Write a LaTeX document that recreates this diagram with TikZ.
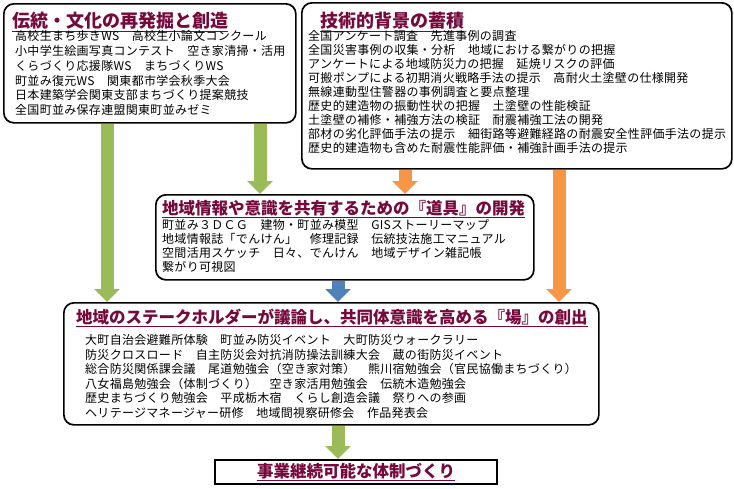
\documentclass[tikz,border=0pt]{standalone}
\usepackage{fontspec}
\setmainfont{Noto Sans CJK JP}
\newfontfamily\bodyfont{Noto Sans CJK JP}[LetterSpace=2.5]
\usetikzlibrary{arrows.meta,backgrounds}
\definecolor{ttl}{RGB}{118,8,60}
\definecolor{garr}{RGB}{155,187,89}
\definecolor{oarr}{RGB}{247,150,70}
\definecolor{barr}{RGB}{79,129,189}
\tikzset{
  rbox/.style={draw=black, line width=1.7pt, rounded corners=10pt, fill=white,
    inner sep=0pt, anchor=north west},
  sbox/.style={draw=black, line width=2pt, fill=white, inner sep=0pt, anchor=north west},
  ttlA/.style={inner sep=0pt, anchor=west, text=ttl, font=\fontsize{18}{20}\selectfont\bfseries},
  ttlB/.style={inner sep=0pt, anchor=west, text=ttl, font=\fontsize{16.5}{18}\selectfont\bfseries},
  body/.style={inner sep=0pt, anchor=north west, align=left},
  blockarrow/.style={line width=13pt, -{Triangle[width=25pt,length=13pt]}},
  garrow/.style={blockarrow, draw=garr, color=garr},
  oarrow/.style={blockarrow, draw=oarr, color=oarr},
  barrow/.style={blockarrow, draw=barr, color=barr},
}
\begin{document}
\begin{tikzpicture}[x=1pt,y=-1pt]
\useasboundingbox (0,0) rectangle (734,488);
% boxes
\node[rbox, minimum width=292pt, minimum height=119pt] (b1) at (3,3) {};
\node[rbox, minimum width=430pt, minimum height=166pt] (b2) at (301,2) {};
\node[rbox, minimum width=378pt, minimum height=85pt] (b3) at (155,194) {};
\node[rbox, minimum width=535pt, minimum height=122pt] (b4) at (63,302) {};
\node[sbox, minimum width=282pt, minimum height=24pt] (b5) at (214,459) {};
% titles
\node[ttlA] (t1) at (12,22) {\underline{伝統・文化の再発掘と創造}};
\node[ttlA] (t2) at (320,22) {\underline{技術的背景の蓄積}};
\node[ttlB] (t3) at (162,209) {\underline{地域情報や意識を共有するための『道具』の開発}};
\node[ttlB] (t4) at (76,318) {\underline{地域のステークホルダーが議論し、共同体意識を高める『場』の創出}};
\node[ttlB, anchor=center] (t5) at (b5.center) {\underline{事業継続可能な体制づくり}};
% bodies
\node[body, font=\bodyfont\fontsize{12}{14.8}\selectfont] (x1) at (15,30.5) {%
高校生まち歩きWS　高校生小論文コンクール\\
小中学生絵画写真コンテスト　空き家清掃・活用\\
くらづくり応援隊WS　まちづくりWS\\
町並み復元WS　関東都市学会秋季大会\\
日本建築学会関東支部まちづくり提案競技\\
全国町並み保存連盟関東町並みゼミ};
\node[body, font=\bodyfont\fontsize{12}{14}\selectfont] (x2) at (308,30.5) {%
全国アンケート調査　先進事例の調査\\
全国災害事例の収集・分析　地域における繋がりの把握\\
アンケートによる地域防災力の把握　延焼リスクの評価\\
可搬ポンプによる初期消火戦略手法の提示　高耐火土塗壁の仕様開発\\
無線連動型住警器の事例調査と要点整理\\
歴史的建造物の振動性状の把握　土塗壁の性能検証\\
土塗壁の補修・補強方法の検証　耐震補強工法の開発\\
部材の劣化評価手法の提示　細街路等避難経路の耐震安全性評価手法の提示\\
歴史的建造物も含めた耐震性能評価・補強計画手法の提示};
\node[body, font=\bodyfont\fontsize{12}{14}\selectfont] (x3) at (162,219.5) {%
町並み３ＤＣＧ　建物・町並み模型　GISストーリーマップ\\
地域情報誌「でんけん」　修理記録　伝統技法施工マニュアル\\
空間活用スケッチ　日々、でんけん　地域デザイン雑記帳\\
繋がり可視図};
\node[body, font=\bodyfont\fontsize{12}{14.5}\selectfont] (x4) at (85,334.5) {%
大町自治会避難所体験　町並み防災イベント　大町防災ウォークラリー\\
防災クロスロード　自主防災会対抗消防操法訓練大会　蔵の街防災イベント\\
総合防災関係課会議　尾道勉強会（空き家対策）　熊川宿勉強会（官民協働まちづくり）\\
八女福島勉強会（体制づくり）　空き家活用勉強会　伝統木造勉強会\\
歴史まちづくり勉強会　平成栃木宿　くらし創造会議　祭りへの参画\\
ヘリテージマネージャー研修　地域間視察研修会　作品発表会};
% arrow columns
\coordinate (c1) at (107,0);
\coordinate (c2) at (260,0);
\coordinate (c3) at (405,0);
\coordinate (c4) at (559,0);
\coordinate (c5) at (338,0);
\begin{scope}[on background layer]
\draw[garrow] (b1.south -| c1) -- (b4.north -| c1);
\draw[garrow] (b1.south -| c2) -- (b3.north -| c2);
\draw[oarrow] (b2.south -| c3) -- (b3.north -| c3);
\draw[oarrow] (b2.south -| c4) -- (b4.north -| c4);
\draw[barrow] (b3.south -| c5) -- (b4.north -| c5);
\draw[garrow] (b4.south -| c5) -- (b5.north -| c5);
\end{scope}
\end{tikzpicture}
\end{document}
